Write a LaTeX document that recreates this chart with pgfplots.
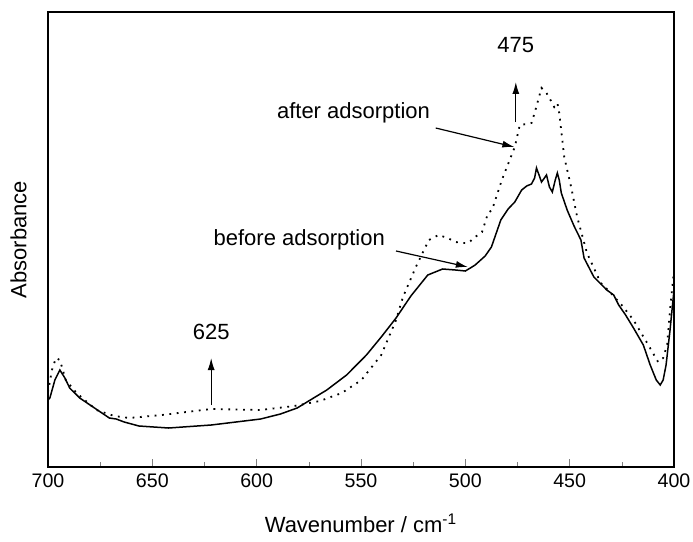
\documentclass[border=0pt]{standalone}
\usepackage{fontspec}
\setmainfont{Liberation Sans}
\usepackage{pgfplots}
\pgfplotsset{compat=1.18}
\usetikzlibrary{arrows.meta}
\begin{document}
\begin{tikzpicture}
\begin{axis}[
  name=ax,
  scale only axis,
  width=313pt, height=227.5pt,
  x dir=reverse,
  xmin=400, xmax=700, ymin=0, ymax=455,
  xtick={400,450,...,700},
  minor xtick={425,475,...,675},
  xtick pos=bottom,
  ytick=\empty,
  tick align=inside,
  major tick length=4pt, minor tick length=2.5pt,
  /pgf/number format/assume math mode=true,
  tick label style={font=\fontsize{9.8}{11}\selectfont},
  label style={font=\fontsize{11}{13}\selectfont},
  xlabel={Wavenumber / cm\textsuperscript{-1}},
  ylabel={Absorbance},
  xlabel style={at={(axis description cs:0.5,-0.123)}, anchor=center},
  ylabel style={at={(axis description cs:-0.047,0.5)}, anchor=center},
  axis line style={line width=0.8pt},
  clip=false,
]
\addplot[black, line width=0.75pt] coordinates {
(700,67)(699.1,69)(696.7,87)(694.3,97)(691.9,89)(689.6,79)(684.8,69)(677.7,59)
(670.6,49)(667.3,48)(663.5,45)(656.4,41)(642.2,39)(621.8,42)(598.1,48)(588.6,53)
(580.6,59)(566.4,77)(556.9,92)(547.4,112)(540.3,130)(533.2,149)(526.1,171)(518.0,192)
(510.9,198)(504.7,197)(500.0,196)(497.6,199)(495.3,202)(490.5,211)(487.5,220)(485.5,232)
(483.0,247)(479.5,258)(476.3,265)(473.0,277)(470.6,281)(468.3,283)(466.8,289)(465.9,299)
(464.5,291)(463.5,285)(462.1,289)(461.1,292)(459.7,280)(458.3,275)(456.9,287)(455.9,294)
(455.0,287)(454.0,274)(451.2,257)(447.9,241)(444.6,227)(443.1,209)(438.4,190)(432.2,177)
(428.9,172)(426.5,162)(423.2,152)(419.4,139)(414.7,122)(411.4,102)(408.5,87)(406.6,82)
(405.2,87)(403.8,102)(401.9,137)(400,177)
};
\addplot[black, line width=0.9pt, dash pattern=on 0.9pt off 2.8pt] coordinates {
(700,75)(698.1,97)(696.2,109)(694.3,107)(691.5,87)(686.3,74)(676.8,57)(668.2,51)
(661.1,49)(645.5,52)(621.8,58)(598.1,57)(582.0,61)(569.7,66)(559.2,74)(549.8,87)
(540.3,112)(533.2,147)(529.9,170)(523.7,200)(517.5,227)(512.8,232)(508.5,229)(504.7,225)
(501.4,224)(498.6,224)(495.3,230)(492.0,235)(489.1,254)(487.2,257)(482.5,287)(476.3,320)
(473.9,342)(470.6,343)(468.3,344)(466.8,354)(463.5,379)(461.1,374)(459.7,369)(457.4,360)
(455.9,364)(455.0,354)(452.6,310)(449.3,280)(446.4,250)(441.7,214)(435.1,184)(430.3,174)
(425.1,162)(419.4,147)(412.3,122)(407.6,105)(405.2,109)(403.3,122)(401.9,157)(400,197)
};
\node[font=\fontsize{11}{13}\selectfont] at (axis cs:475.8,422) {475};
\draw[-{Latex[length=6pt,width=3.5pt]}, line width=0.6pt] (axis cs:475.8,345) -- (axis cs:475.8,385);
\node[font=\fontsize{11}{13}\selectfont] at (axis cs:553.6,354) {after adsorption};
\draw[-{Latex[length=6pt,width=3.5pt]}, line width=0.6pt] (axis cs:514.2,339) -- (axis cs:476.5,320);
\node[font=\fontsize{11}{13}\selectfont] at (axis cs:579.6,227) {before adsorption};
\draw[-{Latex[length=6pt,width=3.5pt]}, line width=0.6pt] (axis cs:533.2,216) -- (axis cs:498.8,200);
\node[font=\fontsize{11}{13}\selectfont] at (axis cs:621.8,135) {625};
\draw[-{Latex[length=6pt,width=3.5pt]}, line width=0.6pt] (axis cs:621.8,62) -- (axis cs:621.8,109);
\end{axis}
\pgfresetboundingbox
\path ([xshift=-24pt,yshift=-37pt]ax.south west) rectangle ([xshift=9.5pt,yshift=6pt]ax.north east);
\end{tikzpicture}
\end{document}
